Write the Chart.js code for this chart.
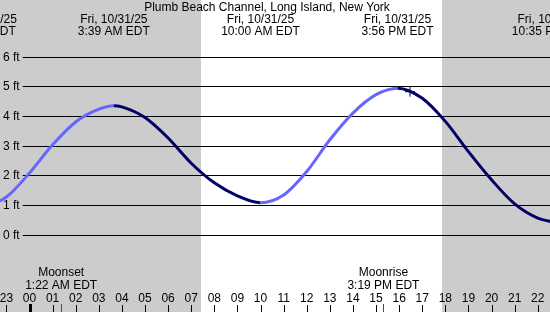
<!DOCTYPE html>
<html>
<head>
<meta charset="utf-8">
<script src="https://cdn.jsdelivr.net/npm/chart.js@4/dist/chart.umd.min.js"></script>
<style>
  html, body { margin: 0; padding: 0; background: #fff; }
</style>
</head>
<body>
<canvas id="tideChart" width="550" height="312"></canvas>
<script>
const stationName = 'Plumb Beach Channel, Long Island, New York';

// hours counted from midnight of Fri 10/31 (negative = Thursday evening)
const tideHours = [-2.15, -1, 0, 1, 2, 3, 3.65, 4, 5, 6, 7, 8, 9, 10, 11, 12, 13, 14, 15, 15.93, 17, 18, 19, 20, 21, 22, 22.58];
const tideFeet = [0.88, 1.29, 2.1, 3.05, 3.82, 4.25, 4.37, 4.33, 3.97, 3.28, 2.43, 1.77, 1.33, 1.1, 1.36, 2.15, 3.22, 4.12, 4.74, 4.96, 4.62, 3.84, 2.82, 1.87, 1.06, 0.58, 0.46];

const eventHours = [-2.15, 3.65, 10.0, 15.93, 22.58];
const eventDates = ['Thu, 10/30/25', 'Fri, 10/31/25', 'Fri, 10/31/25', 'Fri, 10/31/25', 'Fri, 10/31/25'];
const eventTimes = ['9:51 PM EDT', '3:39 AM EDT', '10:00 AM EDT', '3:56 PM EDT', '10:35 PM EDT'];

const hourTicks = [-1, 0, 1, 2, 3, 4, 5, 6, 7, 8, 9, 10, 11, 12, 13, 14, 15, 16, 17, 18, 19, 20, 21, 22];
const hourLabels = ['23', '00', '01', '02', '03', '04', '05', '06', '07', '08', '09', '10', '11',
  '12', '13', '14', '15', '16', '17', '18', '19', '20', '21', '22'];
const feetTicks = [0, 1, 2, 3, 4, 5, 6];
const feetLabels = ['0 ft', '1 ft', '2 ft', '3 ft', '4 ft', '5 ft', '6 ft'];

const sunrise = 7.42;
const sunset = 17.84;
const moonHours = [1.37, 15.32];
const moonNames = ['Moonset', 'Moonrise'];
const moonTimes = ['1:22 AM EDT', '3:19 PM EDT'];
const nowHour = 16.47;
const nowFeet = 4.84;

const FAMILY = '"Liberation Sans", Arial, sans-serif';
const FONT = '12px ' + FAMILY;
const RISE = '#6666ff';
const FALL = '#000066';
const NIGHT = '#cccccc';

const dayNight = {
  id: 'dayNight',
  beforeDraw(chart) {
    const ctx = chart.ctx;
    const x = chart.scales.x;
    const a = Math.round(x.getPixelForValue(sunrise));
    const b = Math.round(x.getPixelForValue(sunset));
    ctx.save();
    ctx.fillStyle = '#ffffff';
    ctx.fillRect(0, 0, chart.width, chart.height);
    ctx.fillStyle = NIGHT;
    ctx.fillRect(0, 0, a, chart.height);
    ctx.fillRect(b, 0, chart.width - b, chart.height);
    ctx.restore();
  }
};

const labels = {
  id: 'labels',
  afterDraw(chart) {
    const ctx = chart.ctx;
    const x = chart.scales.x;
    ctx.save();
    ctx.font = FONT;
    ctx.fillStyle = '#000';
    ctx.textAlign = 'center';
    ctx.textBaseline = 'middle';
    ctx.fillText(stationName, 267, 8);
    eventHours.forEach((h, i) => {
      const px = x.getPixelForValue(h);
      ctx.fillText(eventDates[i], px, 20);
      ctx.fillText(eventTimes[i], px, 32);
    });
    moonHours.forEach((h, i) => {
      const px = x.getPixelForValue(h);
      ctx.fillText(moonNames[i], px, 273);
      ctx.fillText(moonTimes[i], px, 286);
    });
    // tick marks under the hour labels
    x.ticks.forEach(t => {
      const px = Math.round(x.getPixelForValue(t.value));
      if (t.value === 0) ctx.fillRect(px - 1, 304, 3, 8);
      else ctx.fillRect(px, 305, 1, 7);
    });
    ctx.fillStyle = '#ff0000';
    moonHours.forEach(h => {
      const px = Math.round(x.getPixelForValue(h));
      ctx.fillRect(px, 304, 1, 8);
    });
    ctx.restore();
  }
};

new Chart(document.getElementById('tideChart'), {
  type: 'line',
  data: {
    datasets: [{
      data: tideHours.map((h, i) => ({ x: h, y: tideFeet[i] })),
      borderWidth: 3,
      borderColor: FALL,
      segment: {
        borderColor: c => c.p1.parsed.y >= c.p0.parsed.y ? RISE : FALL
      },
      cubicInterpolationMode: 'monotone',
      pointRadius: 0,
      fill: false
    }, {
      data: [{ x: nowHour, y: nowFeet }],
      showLine: false,
      pointStyle: 'cross',
      pointRadius: 5,
      borderColor: '#000',
      borderWidth: 1
    }]
  },
  options: {
    responsive: false,
    devicePixelRatio: 1,
    animation: false,
    layout: { padding: 0, autoPadding: false },
    plugins: { legend: { display: false }, tooltip: { enabled: false } },
    scales: {
      x: {
        type: 'linear',
        position: 'bottom',
        min: -1.277,
        max: 22.53,
        afterBuildTicks: s => { s.ticks = hourTicks.map(v => ({ value: v })); },
        afterFit: s => { s.height = 24; s.paddingLeft = 0; s.paddingRight = 0; },
        grid: { display: false, drawTicks: false },
        border: { display: false },
        ticks: {
          autoSkip: false,
          maxRotation: 0,
          padding: 3,
          color: '#000',
          font: { family: FAMILY, size: 12 },
          callback: v => hourLabels[hourTicks.indexOf(v)]
        }
      },
      y: {
        type: 'linear',
        position: 'left',
        min: -1.776,
        max: 7.931,
        afterBuildTicks: s => { s.ticks = feetTicks.map(v => ({ value: v })); },
        afterFit: s => { s.width = 0; s.paddingTop = 0; s.paddingBottom = 0; },
        grid: { color: '#000', lineWidth: 1, drawTicks: false },
        border: { display: false },
        ticks: {
          mirror: true,
          padding: 3,
          color: '#000',
          font: { family: FAMILY, size: 12 },
          showLabelBackdrop: true,
          backdropColor: NIGHT,
          backdropPadding: { left: 3, right: 3, top: 1, bottom: 1 },
          callback: v => feetLabels[feetTicks.indexOf(v)]
        }
      }
    }
  },
  plugins: [dayNight, labels]
});
</script>
</body>
</html>
